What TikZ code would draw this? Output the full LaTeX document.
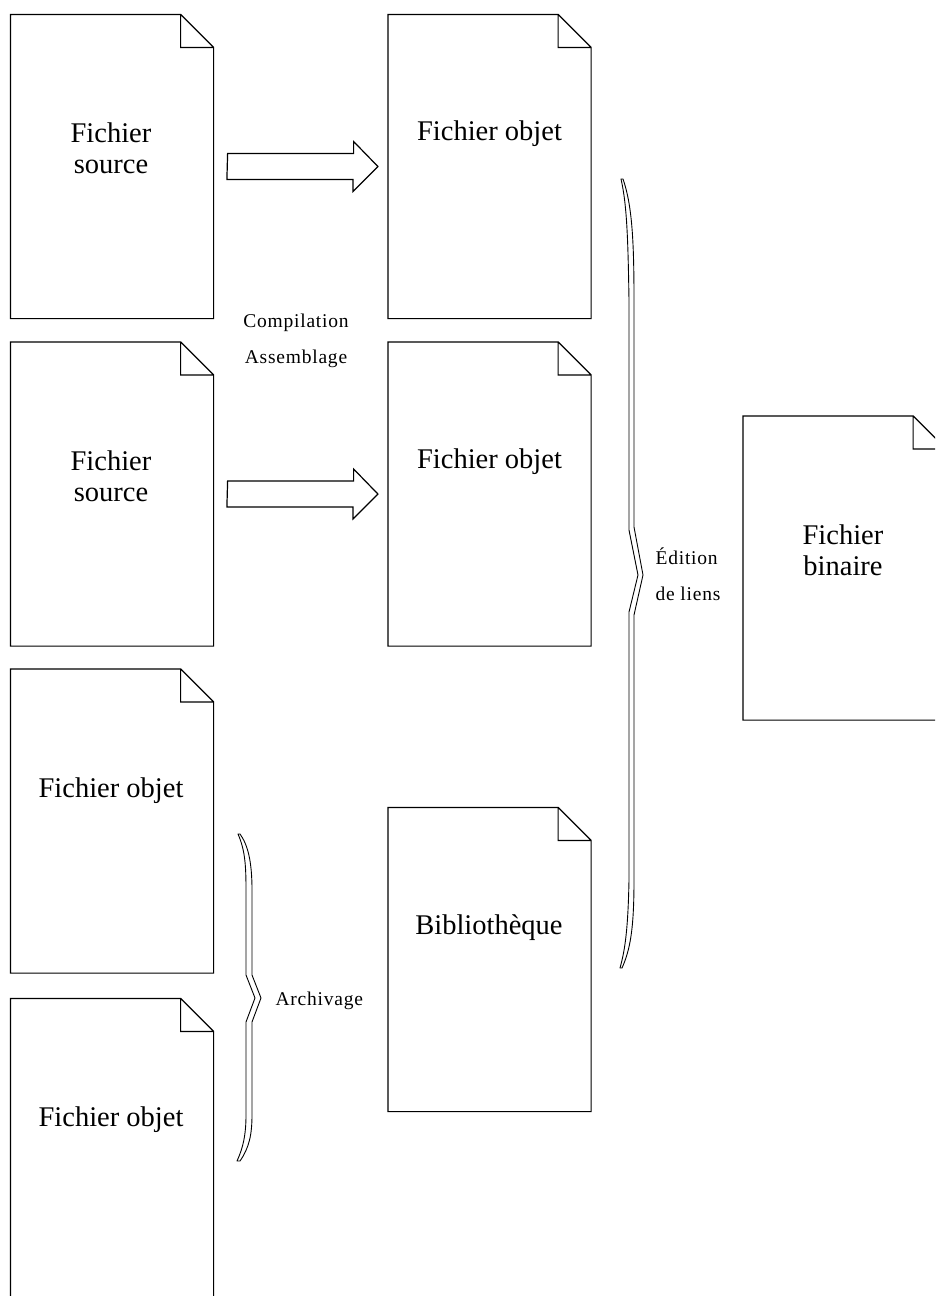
\documentclass[tikz,border=0pt]{standalone}
\usepackage{fontspec}
\setmainfont{Liberation Serif}
\newfontfamily\petitfont[LetterSpace=4]{Liberation Serif}
\usetikzlibrary{calc}

\tikzset{
	fichier/.style={minimum width=202pt, minimum height=303pt, inner sep=0pt},
	titre/.style={font=\fontsize{28.5}{31}\selectfont, align=center, anchor=base, inner sep=0pt},
	petit/.style={font=\petitfont\fontsize{19.5}{35.5}\selectfont, anchor=base, inner sep=0pt},
	accolade/.style={line width=0.9pt, line join=round},
}

\begin{document}
\begin{tikzpicture}[x=1pt, y=-1pt, line width=1.2pt]

	\clip (0,0) rectangle (935,1296);

	\node[fichier] (src1) at (112,166.5) {};
	\node[fichier] (obj1) at (489.5,166.5) {};
	\node[fichier] (src2) at (112,494) {};
	\node[fichier] (obj2) at (489.5,494) {};
	\node[fichier] (obj3) at (112,821) {};
	\node[fichier] (obj4) at (112,1150.5) {};
	\node[fichier] (bib) at (489.5,959.5) {};
	\node[fichier] (bin) at (844.5,568) {};

	\foreach \f in {src1,obj1,src2,obj2,obj3,obj4,bib,bin}
		\draw (\f.north west) -- ([xshift=-33pt]\f.north east) -- ([yshift=-33pt]\f.north east)
			-- (\f.south east) -- (\f.south west) -- cycle
			([xshift=-33pt]\f.north east) |- ([yshift=-33pt]\f.north east);

	\node[titre] (src1t) at (111,173) {Fichier\\source};
	\node[titre] (obj1t) at (489.5,140) {Fichier objet};
	\node[titre] (src2t) at (111,501) {Fichier\\source};
	\node[titre] (obj2t) at (489.5,468) {Fichier objet};
	\node[titre] (obj3t) at (111,797) {Fichier objet};
	\node[titre] (obj4t) at (111,1126) {Fichier objet};
	\node[titre] (bibt) at (489,934) {Bibliothèque};
	\node[titre] (bint) at (843,575) {Fichier\\binaire};

	% compilation
	\draw ([shift={(14,-13)}]src1.east) -- ++(126,0) -- ++(0,-12) -- ([xshift=-10pt]obj1.west)
		-- ++(-25,25) -- ++(0,-12) -- ++(-126,0) -- cycle;
	\draw ([shift={(14,-13)}]src2.east) -- ++(126,0) -- ++(0,-12) -- ([xshift=-10pt]obj2.west)
		-- ++(-25,25) -- ++(0,-12) -- ++(-126,0) -- cycle;

	\node[petit, align=center] (comp) at (296,363) {Compilation\\Assemblage};

	% edition de liens
	\draw[accolade] (621,179) .. controls (627,205) and (628,240) .. (629,300) -- (629,530)
		-- (638,575) -- (629,612) -- (629,880) .. controls (628,930) and (625,950) .. (620,968)
		-- (622,968) .. controls (630,950) and (634,930) .. (634,880) -- (634,615)
		-- (643,575) -- (634,527) -- (634,300) .. controls (634,240) and (632,205) .. (623,179) -- cycle;

	\node[petit, align=left, anchor=base west] (edit) at (655,600) {Édition\\de liens};

	% archivage
	\draw[accolade] (238,834) .. controls (245,850) and (246,865) .. (246,890) -- (246,975)
		-- (255,998) -- (246,1022) -- (246,1115) .. controls (246,1135) and (243,1148) .. (237,1161)
		-- (240,1161) .. controls (249,1148) and (252,1135) .. (252,1115) -- (252,1022)
		-- (261,998) -- (252,975) -- (252,890) .. controls (252,862) and (248,845) .. (240,834) -- cycle;

	\node[petit, anchor=base west] (arch) at (275,1005) {Archivage};

\end{tikzpicture}
\end{document}
